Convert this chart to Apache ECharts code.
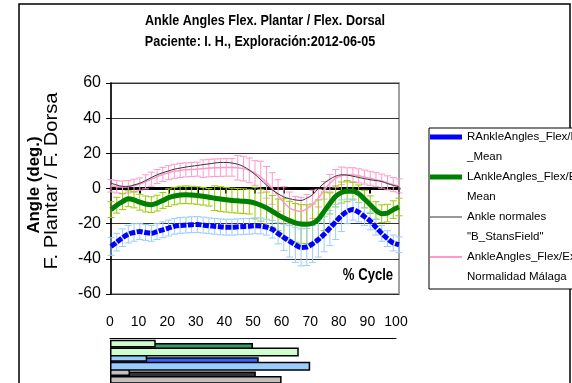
<!DOCTYPE html>
<html><head><meta charset="utf-8">
<script src="https://cdn.jsdelivr.net/npm/echarts@6/dist/echarts.min.js"></script>
<style>html,body{margin:0;padding:0;background:#fff}#c{width:572px;height:383px}</style>
</head><body><div id="c"></div>
<script>
// ---- data ----
const cycle = [0,2,4,6,8,10,12,14,16,18,20,22,24,26,28,30,32,34,36,38,40,42,44,46,48,50,52,54,56,58,60,62,64,66,68,70,72,74,76,78,80,82,84,86,88,90,92,94,96,98,100];
const rMean = [-33,-30.5,-28,-26,-25,-24.5,-25,-25.5,-24.5,-23.5,-22.5,-21.5,-21,-20.8,-20.6,-20.5,-20.8,-21.2,-21.5,-21.8,-22,-22,-21.8,-21.6,-21.5,-21.2,-21.3,-22,-23.2,-25.5,-27.8,-30,-32,-33.5,-33.3,-31.5,-29,-26,-22.5,-19,-15.5,-13,-12,-13.5,-16,-18.5,-22,-25.5,-28.5,-31,-32];
const rSd = [5,5,5,5,5,4.5,4.5,4.5,4.5,4.5,4.5,4.5,4.5,4.5,4.5,4.5,4.5,4.5,4.5,4.5,4.5,4.5,4.5,4.5,4.5,4.5,4.5,4.5,5,6,7.5,9,10,10.5,10.5,10.5,10,10,10,10,9,7,6,5.5,5,5,4.5,4.5,4.5,4.5,4.5];
const lMean = [-12,-9.5,-7.5,-5.8,-6.5,-7.8,-8.8,-9.2,-8.3,-6.8,-5.2,-4.3,-3.7,-3.5,-3.7,-4,-4.4,-5,-5.5,-6,-6.4,-6.8,-7,-7.2,-7.5,-8.3,-9.5,-11,-13,-15,-16.8,-18.3,-19.5,-20.2,-20.3,-19.8,-17.5,-13,-8.5,-4.5,-2.3,-1.5,-1.5,-3,-6,-9.2,-12.5,-14.3,-14,-12,-10.5];
const lSd = [4.5,4.5,4.5,4.5,4.5,4.5,4.5,4.5,4.5,4.5,5,5,5,5,5,5,5,5,7,7,7,7,7,7,7,9,9,9,9,9,11,11,11,11,11,11,11,11,6,6,6,6,5,5,5,5,5,5,5,5,5];
const normMean = [3,2,1.2,1.2,2,3,4.5,6.2,7.8,9,10,11,11.6,12.2,12.7,13.1,13.6,14,14.5,14.8,14.8,14.5,13.8,12.5,10.5,8,5,2,-0.8,-3,-4.8,-5.8,-6.5,-6.8,-5.5,-3.5,0,3,5.3,7,7.8,7.6,7,6.3,5.6,5,4.5,4,2.8,1.8,1];
const malMean = [1.5,1,0.8,1,1.8,2.5,3.8,5.3,6.8,8,9,9.8,10.3,10.6,10.8,11,11.3,11.6,11.8,11.9,12,12,11.8,11.3,10.3,8.8,6.5,3.5,0,-4,-8,-11,-12.5,-13,-11.5,-9,-5.5,-1,3,5.8,7.2,7.8,7.8,7.2,6.5,5.8,5,4.2,3.2,2.2,1.5];
const malSd = [3.5,3.5,3.5,3.5,3.5,3.5,4,4,4,4,4,4,4,4,4,4,5,5,5,5,5,5,7,7,7,7,9,9,9,9,9,9,8,8,8,8,5,5,5,5,5,4,4,4,4,4,4,4,4,4,4];
const seriesNames = ['RAnkleAngles_Flex/Ext\n_Mean', 'LAnkleAngles_Flex/Ext_\nMean', 'Ankle normales\n"B_StansField"', 'AnkleAngles_Flex/Ext\nNormalidad Málaga'];
// gait phase bars (% cycle)
const phaseGroups = ['L', 'R', 'Norm'];
const phaseStart = [16, 13, 7];
const phaseMid = [50, 52, 51];
const phaseEnd = [66, 70, 60];
const yTicks = [-60, 60, 20];
const xTicks = [0, 100, 10];
// ---- chart ----
const SANS = "'Liberation Sans',Arial,sans-serif";
const lightCols = ['#ccffcc', '#99ccff', '#c0c0c0'];
const darkCols = ['#339966', '#3366ff', '#333333'];

function errSeries(mean, sd, color) {
  return {
    type: 'custom', xAxisIndex: 0, yAxisIndex: 0, silent: true, z: 2,
    data: cycle.map((x, i) => [x, mean[i] - sd[i], mean[i] + sd[i]]),
    encode: { x: 0, y: [1, 2] },
    renderItem(params, api) {
      const x = api.value(0);
      const lo = api.coord([x, api.value(1)]);
      const hi = api.coord([x, api.value(2)]);
      const w = 3.5;
      const st = { stroke: color, lineWidth: 1, fill: null };
      return { type: 'group', children: [
        { type: 'line', shape: { x1: lo[0], y1: lo[1], x2: hi[0], y2: hi[1] }, style: st },
        { type: 'line', shape: { x1: lo[0] - w, y1: lo[1], x2: lo[0] + w, y2: lo[1] }, style: st },
        { type: 'line', shape: { x1: hi[0] - w, y1: hi[1], x2: hi[0] + w, y2: hi[1] }, style: st }
      ] };
    }
  };
}
function lineSeries(name, mean, color, width, type, z) {
  return {
    type: 'line', name, xAxisIndex: 0, yAxisIndex: 0, z,
    data: cycle.map((x, i) => [x, mean[i]]),
    showSymbol: false, symbol: 'none', smooth: 0.3,
    itemStyle: { color },
    lineStyle: { color, width, type, cap: 'butt' }
  };
}
function legendFor(i, top, h) {
  return {
    data: [seriesNames[i]], orient: 'vertical', left: 430, top, padding: 0,
    itemWidth: 32, itemHeight: h, icon: 'rect', selectedMode: false,
    formatter: n => ' \n' + n,
    textStyle: { fontFamily: SANS, fontSize: 11.5, color: '#000', lineHeight: 20 }
  };
}
function txt(x, y, text, font, rot, sx) {
  return { type: 'text', x, y, rotation: rot || 0, scaleX: sx || 1, z: 10,
    style: { text, font, fill: '#000', align: 'center', verticalAlign: 'middle', textAlign: 'center', textVerticalAlign: 'middle' } };
}

const chart = echarts.init(document.getElementById('c'), null, { renderer: 'canvas' });
chart.setOption({
  animation: false,
  backgroundColor: '#fff',
  grid: [
    { left: 111, top: 83, width: 288, height: 211, show: true, borderColor: '#a0a0a0', borderWidth: 2, backgroundColor: 'transparent' },
    { left: 110, top: 340.5, width: 286, height: 43.5 }
  ],
  xAxis: [
    { type: 'value', gridIndex: 0, min: xTicks[0], max: xTicks[1], interval: xTicks[2],
      axisLine: { onZero: true, lineStyle: { color: '#000', width: 3 } },
      axisTick: { show: true, length: 5, lineStyle: { color: '#000', width: 2 } },
      axisLabel: { show: false }, splitLine: { show: false } },
    { type: 'value', gridIndex: 1, position: 'top', min: xTicks[0], max: xTicks[1], interval: xTicks[2], offset: 2.5,
      axisLine: { show: true, onZero: false, lineStyle: { color: '#000', width: 1 } },
      axisTick: { show: false },
      axisLabel: { fontFamily: SANS, fontSize: 14, color: '#000', margin: 9 },
      splitLine: { show: false } }
  ],
  yAxis: [
    { type: 'value', gridIndex: 0, min: yTicks[0], max: yTicks[1], interval: yTicks[2],
      axisLine: { show: true, onZero: false, lineStyle: { color: '#000', width: 1.5 } },
      axisTick: { show: true, length: 5, lineStyle: { color: '#000' } },
      axisLabel: { fontFamily: SANS, fontSize: 16, color: '#000', margin: 10 },
      splitLine: { lineStyle: { color: '#333', width: 1 } } },
    { type: 'category', gridIndex: 1, inverse: true, data: phaseGroups,
      axisLine: { show: false }, axisTick: { show: false }, axisLabel: { show: false } }
  ],
  legend: [legendFor(0, 107, 5), legendFor(1, 147, 5), legendFor(2, 187, 1), legendFor(3, 227, 2)],
  series: [
    errSeries(malMean, malSd, '#ff99cc'),
    errSeries(lMean, lSd, '#99cc00'),
    errSeries(rMean, rSd, '#99ccff'),
    lineSeries(seriesNames[3], malMean, '#ff99cc', 1.5, 'solid', 3),
    lineSeries(seriesNames[2], normMean, '#333333', 1, 'solid', 4),
    lineSeries(seriesNames[1], lMean, '#008000', 5, 'solid', 5),
    lineSeries(seriesNames[0], rMean, '#0000ff', 5, [6, 1.5], 6),
    { type: 'bar', xAxisIndex: 1, yAxisIndex: 1, z: 3, barWidth: 9, barGap: '-50%',
      data: phaseStart.map((v, i) => ({ value: v, itemStyle: { color: lightCols[i] } })),
      itemStyle: { borderColor: '#000', borderWidth: 1.5 } },
    { type: 'bar', xAxisIndex: 1, yAxisIndex: 1, z: 2, barWidth: 9, barGap: '-50%',
      data: phaseMid.map((v, i) => ({ value: v, itemStyle: { color: darkCols[i] } })),
      itemStyle: { borderColor: '#000', borderWidth: 1.5 } },
    { type: 'bar', xAxisIndex: 1, yAxisIndex: 1, z: 3, barWidth: 9, barGap: '-50%',
      data: phaseEnd.map((v, i) => ({ value: v, itemStyle: { color: lightCols[i] } })),
      itemStyle: { borderColor: '#000', borderWidth: 1.5 } }
  ],
  graphic: [
    { type: 'rect', z: -1, shape: { x: 19, y: 4, width: 551, height: 420 }, style: { fill: 'none', stroke: '#000', lineWidth: 1.5 } },
    { type: 'rect', z: 1, shape: { x: 429, y: 128, width: 200, height: 161 }, style: { fill: '#fff', stroke: '#000', lineWidth: 1 } },
    txt(265, 21, 'Ankle Angles Flex. Plantar / Flex. Dorsal', 'bold 14px ' + SANS, 0, 0.9),
    txt(260, 42, 'Paciente: I. H., Exploración:2012-06-05', 'bold 14px ' + SANS, 0, 0.9),
    txt(35, 185, 'Angle (deg.)', 'bold 16px ' + SANS, Math.PI / 2, 1.05),
    txt(52, 181, 'F. Plantar / F. Dorsa', '18px ' + SANS, Math.PI / 2, 1.12),
    txt(368, 276, '% Cycle', 'bold 16px ' + SANS, 0, 0.82)
  ]
});
</script></body></html>
